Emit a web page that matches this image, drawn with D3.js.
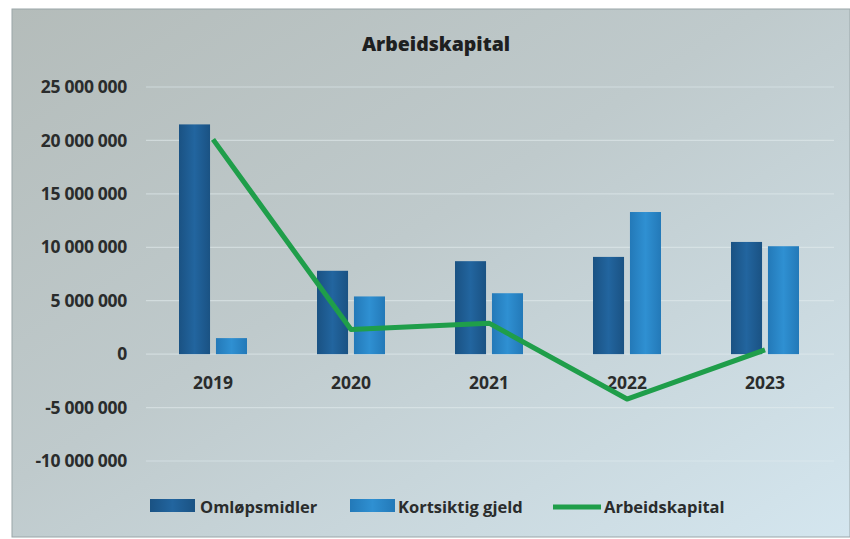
<!DOCTYPE html>
<html>
<head>
<meta charset="utf-8">
<title>Arbeidskapital</title>
<script src="https://d3js.org/d3.v7.min.js"></script>
<style>
  body { margin: 0; background: #fff; }
  svg { display: block; font-family: "Open Sans", sans-serif; }
</style>
</head>
<body>
<svg width="850" height="539"></svg>
<script>
// data
var years = ["2019", "2020", "2021", "2022", "2023"];
var omlopsmidler = [21500000, 7800000, 8700000, 9100000, 10500000];
var kortsiktigGjeld = [1500000, 5400000, 5700000, 13300000, 10100000];
var arbeidskapital = [20100000, 2300000, 2900000, -4200000, 400000];
var yTicks = [-10000000, -5000000, 0, 5000000, 10000000, 15000000, 20000000, 25000000];
var seriesNames = ["Omløpsmidler", "Kortsiktig gjeld", "Arbeidskapital"];

var svg = d3.select("svg");
var defs = svg.append("defs");

// photo-ish background
var bg = defs.append("linearGradient").attr("id", "bg")
    .attr("x1", "0").attr("y1", "0").attr("x2", "1").attr("y2", "1");
bg.append("stop").attr("offset", "0%").attr("stop-color", "#b4bcba");
bg.append("stop").attr("offset", "45%").attr("stop-color", "#bfcacc");
bg.append("stop").attr("offset", "100%").attr("stop-color", "#d4e6ef");

function barGrad(id, c1, c2) {
  var g = defs.append("linearGradient").attr("id", id)
      .attr("x1", "0").attr("y1", "0").attr("x2", "1").attr("y2", "0");
  g.append("stop").attr("offset", "0%").attr("stop-color", c1);
  g.append("stop").attr("offset", "50%").attr("stop-color", c2);
  g.append("stop").attr("offset", "100%").attr("stop-color", c1);
}
barGrad("g0", "#1a5283", "#22659f");
barGrad("g1", "#2379b8", "#2f90d2");

svg.append("rect").attr("x", 12).attr("y", 9).attr("width", 838).attr("height", 528)
    .attr("fill", "url(#bg)").attr("stroke", "#9aa6a8").attr("stroke-width", 1);

var x = d3.scaleBand().domain(years).range([144, 834]);
var x1 = d3.scaleBand().domain([0, 1]).range([0, 68]).paddingInner(0.16);
var y = d3.scaleLinear().domain([-10000000, 25000000]).range([461, 87]);

// Norwegian style: space thousands, plain hyphen minus
var fmt = function(v) { return d3.format(",")(v).replace(/,/g, " ").replace("\u2212", "-"); };

// gridlines
svg.append("g").selectAll("line").data(yTicks).join("line")
    .attr("x1", 146).attr("x2", 834)
    .attr("y1", function(d) { return y(d); }).attr("y2", function(d) { return y(d); })
    .attr("stroke", "#e4ecee").attr("stroke-opacity", 0.55).attr("stroke-width", 1.2);

// y axis labels
var yAxis = svg.append("g").attr("transform", "translate(127,0)")
    .call(d3.axisLeft(y).tickValues(yTicks).tickFormat(fmt).tickSize(0).tickPadding(0));
yAxis.select(".domain").remove();
yAxis.selectAll("text").attr("font-size", 17.5).attr("font-weight", 700)
    .attr("fill", "#2a2c2c").attr("font-family", "Open Sans, sans-serif")
    .attr("letter-spacing", -0.3);

// bars
var barData = [];
years.forEach(function(yr, i) {
  barData.push({ year: yr, s: 0, v: omlopsmidler[i] });
  barData.push({ year: yr, s: 1, v: kortsiktigGjeld[i] });
});
svg.append("g").selectAll("rect").data(barData).join("rect")
    .attr("x", function(d) { return x(d.year) + x.bandwidth() / 2 - 34 + x1(d.s); })
    .attr("width", x1.bandwidth())
    .attr("y", function(d) { return y(Math.max(0, d.v)); })
    .attr("height", function(d) { return Math.abs(y(d.v) - y(0)); })
    .attr("fill", function(d) { return "url(#g" + d.s + ")"; });

// year labels
svg.append("g").selectAll("text").data(years).join("text")
    .attr("x", function(d) { return x(d) + x.bandwidth() / 2; })
    .attr("y", 389)
    .attr("text-anchor", "middle")
    .attr("font-size", 17.5).attr("font-weight", 700).attr("fill", "#2a2c2c")
    .text(function(d) { return d; });

// line
var line = d3.line()
    .x(function(d, i) { return x(years[i]) + x.bandwidth() / 2; })
    .y(function(d) { return y(d); });
svg.append("path").datum(arbeidskapital)
    .attr("d", line)
    .attr("fill", "none").attr("stroke", "#1f9e4a").attr("stroke-width", 5)
    .attr("stroke-linejoin", "round");

// title
svg.append("text").attr("x", 436).attr("y", 51).attr("text-anchor", "middle")
    .attr("font-size", 19.5).attr("font-weight", 800).attr("fill", "#1e2020")
    .text("Arbeidskapital");

// legend
var legend = [
  { name: seriesNames[0], type: "bar", fill: "url(#g0)", x: 150, tx: 200 },
  { name: seriesNames[1], type: "bar", fill: "url(#g1)", x: 350, tx: 398 },
  { name: seriesNames[2], type: "line", fill: "#1f9e4a", x: 553, tx: 604 }
];
var lg = svg.append("g").selectAll("g").data(legend).join("g");
lg.filter(function(d) { return d.type === "bar"; }).append("rect")
    .attr("x", function(d) { return d.x; }).attr("y", 499)
    .attr("width", 45).attr("height", 13)
    .attr("fill", function(d) { return d.fill; });
lg.filter(function(d) { return d.type === "line"; }).append("line")
    .attr("x1", function(d) { return d.x; }).attr("x2", function(d) { return d.x + 48; })
    .attr("y1", 507).attr("y2", 507)
    .attr("stroke", function(d) { return d.fill; }).attr("stroke-width", 5);
lg.append("text")
    .attr("x", function(d) { return d.tx; }).attr("y", 513)
    .attr("font-size", 16.5).attr("font-weight", 700).attr("fill", "#2a2c2c")
    .text(function(d) { return d.name; });
</script>
</body>
</html>
